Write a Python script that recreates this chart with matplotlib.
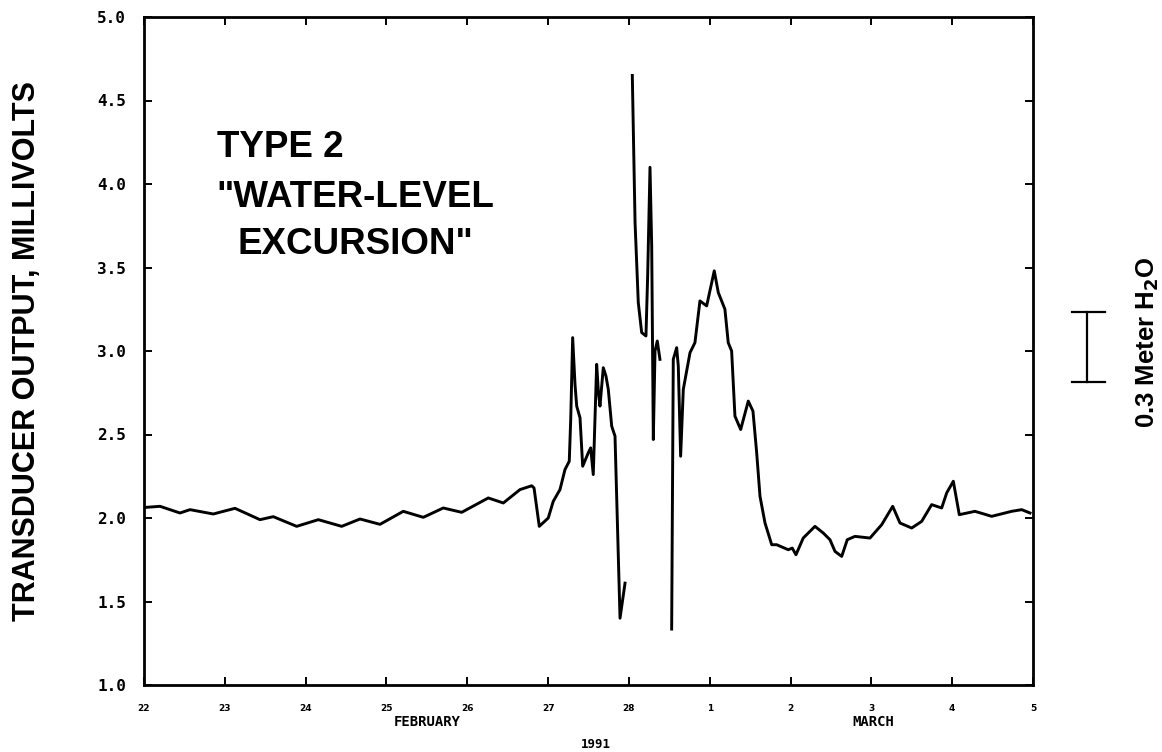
import numpy as np
import matplotlib
matplotlib.use("Agg")
import matplotlib.pyplot as plt
from matplotlib.transforms import blended_transform_factory

# ---- data (x = days after 22 Feb 1991, y = transducer output, mV) ----
days = [0.033, 0.198, 0.445, 0.569, 0.857, 1.126, 1.435, 1.600, 1.889, 2.157,
        2.446, 2.673, 2.920, 3.208, 3.456, 3.703, 3.931, 4.260, 4.446, 4.652,
        4.797, 4.826, 4.891, 5.002, 5.064, 5.147, 5.209, 5.262, 5.280, 5.304,
        5.333, 5.354, 5.395, 5.428, 5.497, 5.527, 5.559, 5.580, 5.601, 5.623,
        5.642, 5.683, 5.716, 5.745, 5.787, 5.828, 5.890, 5.952,
        5.997,
        6.042, 6.076, 6.116, 6.158, 6.211, 6.232, 6.261, 6.282, 6.302, 6.323,
        6.351, 6.384,
        6.456,
        6.529, 6.549, 6.591, 6.611, 6.640, 6.673, 6.756, 6.817, 6.879, 6.962,
        7.056, 7.106, 7.188, 7.229, 7.271, 7.312, 7.383, 7.477, 7.535, 7.581,
        7.622, 7.684, 7.767, 7.828, 7.972, 8.021, 8.067, 8.157, 8.302, 8.405,
        8.488, 8.550, 8.633, 8.702, 8.797, 8.983, 9.128, 9.264, 9.354, 9.499,
        9.623, 9.746, 9.870, 9.932, 10.014, 10.088, 10.282, 10.489, 10.736,
        10.860, 10.963]
millivolts = [2.064, 2.07, 2.03, 2.05, 2.024, 2.058, 1.99, 2.008, 1.95, 1.99,
              1.95, 1.994, 1.962, 2.04, 2.004, 2.06, 2.034, 2.12, 2.09, 2.17,
              2.193, 2.18, 1.95, 2.0, 2.10, 2.17, 2.29, 2.34, 2.59, 3.08,
              2.80, 2.67, 2.60, 2.31, 2.39, 2.42, 2.26, 2.59, 2.92, 2.75,
              2.67, 2.90, 2.85, 2.77, 2.55, 2.49, 1.40, 1.61,
              np.nan,
              4.65, 3.77, 3.29, 3.11, 3.09, 3.45, 4.10, 3.63, 2.47, 3.00,
              3.06, 2.95,
              np.nan,
              1.335, 2.95, 3.02, 2.91, 2.37, 2.77, 2.99, 3.05, 3.30, 3.27,
              3.48, 3.35, 3.25, 3.05, 3.00, 2.61, 2.53, 2.70, 2.64, 2.39,
              2.13, 1.97, 1.84, 1.84, 1.81, 1.82, 1.78, 1.88, 1.95, 1.91,
              1.87, 1.80, 1.77, 1.87, 1.89, 1.88, 1.96, 2.07, 1.97, 1.94,
              1.98, 2.08, 2.06, 2.15, 2.22, 2.02, 2.04, 2.01, 2.04,
              2.05, 2.03]

tick_days = list(range(12))
tick_labels = ["22", "23", "24", "25", "26", "27", "28", "1", "2", "3", "4", "5"]
y_ticks = [1.0, 1.5, 2.0, 2.5, 3.0, 3.5, 4.0, 4.5, 5.0]

# scale bar: 0.3 m of water in transducer units
scale_bottom, scale_top = 2.816, 3.235

fig = plt.figure(figsize=(11.62, 7.52), dpi=100)
ax = fig.add_axes([144/1162, 1-685/752, 889/1162, 668/752])

ax.plot(days, millivolts, color="black", lw=2.1, solid_joinstyle="round")

ax.set_xlim(0, 11)
ax.set_ylim(1.0, 5.0)
ax.set_xticks(tick_days)
ax.set_xticklabels(tick_labels, fontsize=6.5, fontweight="bold")
ax.set_yticks(y_ticks)
ax.set_yticklabels([f"{v:.1f}" for v in y_ticks], fontsize=11.5, fontweight="bold",
                   family="DejaVu Sans Mono")
ax.tick_params(axis="both", direction="in", length=6, width=1.4,
               top=True, right=True)
ax.tick_params(axis="x", pad=14)
ax.tick_params(axis="y", pad=13)
for s in ax.spines.values():
    s.set_linewidth(2.0)

ax.set_ylabel("TRANSDUCER OUTPUT, MILLIVOLTS", fontsize=22, fontweight="bold",
              family="Liberation Sans")
ax.yaxis.set_label_coords(-0.115, 0.5)

# annotation text
ax.text(0.9, 4.216, "TYPE 2", fontsize=26.5, fontweight="bold",
        family="Liberation Sans", ha="left", va="center")
ax.text(2.62, 3.922, '"WATER-LEVEL', fontsize=26.5, fontweight="bold",
        family="Liberation Sans", ha="center", va="center")
ax.text(2.62, 3.635, 'EXCURSION"', fontsize=26.5, fontweight="bold",
        family="Liberation Sans", ha="center", va="center")

# month labels
ax.text(3.51, -0.055, "FEBRUARY", transform=blended_transform_factory(ax.transData, ax.transAxes),
        fontsize=10, fontweight="bold", family="DejaVu Sans Mono", ha="center", va="center")
ax.text(9.02, -0.055, "MARCH", transform=blended_transform_factory(ax.transData, ax.transAxes),
        fontsize=10, fontweight="bold", family="DejaVu Sans Mono", ha="center", va="center")
fig.text(596/1162, 1-744/752, "1991", fontsize=9, fontweight="bold",
         family="DejaVu Sans Mono", ha="center", va="center")

# scale bar on the right
bt = blended_transform_factory(ax.transAxes, ax.transData)
xb = (1086.7-144)/889
xl, xr = (1071.7-144)/889, (1105-144)/889
ax.plot([xb, xb], [scale_bottom, scale_top], color="black", lw=1.6, transform=bt, clip_on=False)
ax.plot([xl, xr], [scale_top, scale_top], color="black", lw=1.6, transform=bt, clip_on=False)
ax.plot([xl, xr], [scale_bottom, scale_bottom], color="black", lw=1.6, transform=bt, clip_on=False)
fig.text(1148/1162, 1-342/752, r"0.3 Meter H$_\mathbf{2}$O", rotation=90, fontsize=18.5,
         fontweight="bold", family="Liberation Sans", ha="center", va="center")

fig.savefig("out.png", dpi=100, facecolor="white")
